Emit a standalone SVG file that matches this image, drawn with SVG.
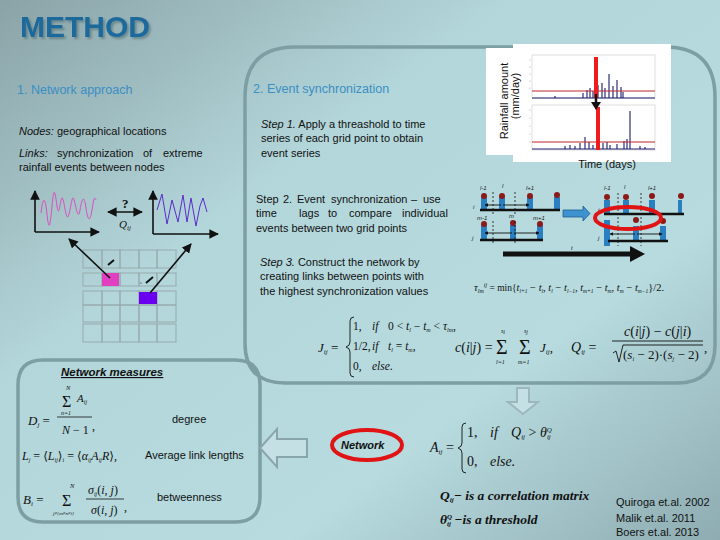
<svg xmlns="http://www.w3.org/2000/svg" width="720" height="540" viewBox="0 0 720 540">
<defs>
<linearGradient id="bg" x1="0" y1="0" x2="1" y2="1">
<stop offset="0" stop-color="#8aa3a7"/>
<stop offset="0.35" stop-color="#b3d6da"/>
<stop offset="0.7" stop-color="#b7dbdf"/>
<stop offset="1" stop-color="#8eacb1"/>
</linearGradient>
<filter id="sh" x="-10%" y="-20%" width="130%" height="150%"><feDropShadow dx="2" dy="2" stdDeviation="0.8" flood-color="#4d6d72" flood-opacity="0.6"/></filter>
<marker id="ah" viewBox="0 0 10 10" refX="9" refY="5" markerWidth="6" markerHeight="6" orient="auto-start-reverse"><path d="M0,0 L10,5 L0,10 z" fill="#111"/></marker>
<marker id="sa" viewBox="0 0 10 10" refX="9" refY="5" markerWidth="4" markerHeight="4" orient="auto-start-reverse"><path d="M0,0 L10,5 L0,10 z" fill="#111"/></marker>
<style>
.b{font-family:"Liberation Sans","DejaVu Sans",sans-serif;font-size:11px;fill:#111}
.h{font-family:"Liberation Sans","DejaVu Sans",sans-serif;font-size:12.5px;fill:#3a8fc4}
.m{font-family:"Liberation Serif","DejaVu Serif",serif;font-style:italic;fill:#111}
.r{font-style:normal}
.t{font-family:"Liberation Sans",sans-serif;font-size:6px;font-style:italic;fill:#222}
.box{fill:none;stroke:#7d9ea3;stroke-width:3.5}
.cell{fill:none;stroke:#98aaad;stroke-width:1}
.bar{fill:#2a7fc0}
.dot{fill:#8b1a1a}
.base{stroke:#111;stroke-width:2.5}
.dash{stroke:#111;stroke-width:0.8;stroke-dasharray:2,2}
.sp{stroke:#1c1c6e;stroke-width:1.1}
.ln{stroke:#111;stroke-width:1.6;fill:none}
</style>
</defs>
<rect width="720" height="540" fill="url(#bg)"/>

<g id="title">
<text x="20" y="37" font-family="Liberation Sans,sans-serif" font-weight="bold" font-size="30" fill="#1d6a9c" filter="url(#sh)">METHOD</text>
</g>

<g id="panel-sync">
<path class="box" d="M295,47 H665 Q715,47 715,97 V345 Q715,383 677,383 H285 Q245,383 245,343 V97 Q245,47 295,47 Z"/>
</g>
<g id="panel-measures">
<path class="box" d="M43,360 H235 Q260,360 260,385 V497 Q260,522 235,522 H43 Q18,522 18,497 V385 Q18,360 43,360 Z"/>
</g>

<g id="network-approach">
<text class="h" x="17" y="94">1. Network approach</text>
<text class="b" x="19" y="135"><tspan font-style="italic">Nodes:</tspan> geographical locations</text>
<text class="b" y="157"><tspan x="19" font-style="italic">Links:</tspan><tspan x="57">synchronization</tspan><tspan x="143">of</tspan><tspan x="163">extreme</tspan></text>
<text class="b" x="19" y="171">rainfall events between nodes</text>
</g>

<g id="series-plots">
<path class="ln" d="M35,232 H99" marker-end="url(#ah)"/>
<path class="ln" d="M35,232 V191" marker-end="url(#ah)"/>
<path d="M41,213 C43,196 45,196 47,214 S50,228 52,206 S55,192 57,206 S60,200 62,198 S66,226 69,214 S72,194 74,200 S78,222 80,210 S84,194 86,208 S90,222 92,210 S94,196 96,200" fill="none" stroke="#d84fc0" stroke-width="1"/>
<path class="ln" d="M153,234 V191" marker-end="url(#ah)"/>
<path class="ln" d="M153,234 H218" marker-end="url(#ah)"/>
<path d="M157,210 L162,194 L167,224 L172,200 L178,222 L183,195 L187,222 L191,198 L196,226 L200,206 L203,198 L207,212" fill="none" stroke="#5a2bd0" stroke-width="1"/>
<path class="ln" d="M108,212 H142" marker-start="url(#ah)" marker-end="url(#ah)" stroke-width="1.2"/>
<text x="122" y="208" font-family="Liberation Serif,serif" font-weight="bold" font-size="13" fill="#111">?</text>
<text class="m" x="119" y="228" font-size="11">Q<tspan font-size="7" dy="2">ij</tspan></text>
</g>

<g id="grid">
<rect class="cell" x="83" y="250" width="19" height="18"/><rect class="cell" x="102" y="250" width="18" height="18"/><rect class="cell" x="120" y="250" width="19" height="18"/><rect class="cell" x="139" y="250" width="18" height="18"/><rect class="cell" x="157" y="250" width="19" height="18"/>
<rect class="cell" x="83" y="273" width="19" height="13"/><rect class="cell" x="102" y="273" width="18" height="13"/><rect class="cell" x="120" y="273" width="19" height="13"/><rect class="cell" x="139" y="273" width="18" height="13"/><rect class="cell" x="157" y="273" width="19" height="13"/>
<rect class="cell" x="83" y="291" width="19" height="14"/><rect class="cell" x="102" y="291" width="18" height="14"/><rect class="cell" x="120" y="291" width="19" height="14"/><rect class="cell" x="139" y="291" width="18" height="14"/><rect class="cell" x="157" y="291" width="19" height="14"/>
<rect class="cell" x="83" y="305" width="19" height="17"/><rect class="cell" x="102" y="305" width="18" height="17"/><rect class="cell" x="120" y="305" width="19" height="17"/><rect class="cell" x="139" y="305" width="18" height="17"/><rect class="cell" x="157" y="305" width="19" height="17"/>
<rect class="cell" x="83" y="324" width="19" height="18"/><rect class="cell" x="102" y="324" width="18" height="18"/><rect class="cell" x="120" y="324" width="19" height="18"/><rect class="cell" x="139" y="324" width="18" height="18"/><rect class="cell" x="157" y="324" width="19" height="18"/>
<rect x="102" y="273" width="17" height="13" fill="#e040c0"/>
<rect x="139" y="292" width="18" height="12" fill="#6a00f0"/>
<path d="M108,265 L114,260" stroke="#111" stroke-width="2"/>
<path d="M146,283 L153,277" stroke="#111" stroke-width="2"/>
<circle cx="141" cy="283" r="0.6" fill="#111"/>
</g>

<g id="connectors">
<path class="ln" d="M110,278 L69,239" marker-end="url(#ah)"/>
<path class="ln" d="M150,293 L191,244" marker-end="url(#ah)"/>
</g>

<g id="event-sync-text">
<text class="h" x="253" y="93">2. Event synchronization</text>
<text class="b" x="261" y="128"><tspan font-style="italic">Step 1.</tspan> Apply a threashold to time</text>
<text class="b" x="261" y="142">series of each grid point to obtain</text>
<text class="b" x="261" y="157">event series</text>
<text class="b" y="203"><tspan x="256">Step</tspan><tspan x="283">2.</tspan><tspan x="297">Event</tspan><tspan x="331">synchronization</tspan><tspan x="411">–</tspan><tspan x="423">use</tspan></text>
<text class="b" y="217"><tspan x="256">time</tspan><tspan x="299">lags</tspan><tspan x="328">to</tspan><tspan x="349">compare</tspan><tspan x="402">individual</tspan></text>
<text class="b" x="256" y="232">events between two grid points</text>
<text class="b" x="260" y="266"><tspan font-style="italic">Step 3.</tspan> Construct the network by</text>
<text class="b" x="260" y="280">creating links between points with</text>
<text class="b" x="260" y="295">the highest synchronization values</text>
</g>

<g id="rainfall-chart">
<rect x="486" y="48" width="30" height="107" fill="#fff"/>
<rect x="513" y="44" width="158" height="118" fill="#fff"/>
<text class="b" font-size="11" transform="translate(508,101) rotate(-90)" text-anchor="middle">Rainfall amount</text>
<text class="b" font-size="11" transform="translate(519,96) rotate(-90)" text-anchor="middle">(mm/day)</text>
<rect x="532" y="55" width="123" height="43" fill="none" stroke="#d8d8d8" stroke-width="0.8"/>
<rect x="532" y="105" width="123" height="45" fill="none" stroke="#d8d8d8" stroke-width="0.8"/>
<g fill="#aaa"><circle cx="530" cy="60" r="0.6"/><circle cx="530" cy="67" r="0.6"/><circle cx="530" cy="74" r="0.6"/><circle cx="530" cy="81" r="0.6"/><circle cx="530" cy="88" r="0.6"/><circle cx="530" cy="110" r="0.6"/><circle cx="530" cy="118" r="0.6"/><circle cx="530" cy="126" r="0.6"/><circle cx="530" cy="134" r="0.6"/><circle cx="530" cy="142" r="0.6"/></g>
<path class="sp" d="M555,98 V96 M583,98 V93 M587,98 V90 M590,98 V88 M593,98 V91 M598,98 V85 M602,98 V83 M605,98 V88 M609,98 V74 M613,98 V86 M617,98 V80 M621,98 V87 M623,98 V92 M532,98 H655"/>
<path class="sp" d="M565,149 V146 M570,149 V145 M575,149 V146 M580,149 V143 M585,149 V137 M589,149 V142 M593,149 V145 M598,149 V140 M603,149 V143 M607,149 V142 M610,149 V145 M617,149 V144 M624,149 V141 M627,149 V139 M630,149 V111 M640,149 V146 M645,149 V147 M532,149 H655"/>
<path d="M532,91 H655 M532,142 H655" stroke="#c0262a" stroke-width="1.2"/>
<rect x="594" y="57" width="4" height="41" fill="#ee1c1c"/>
<rect x="596" y="107" width="4" height="43" fill="#ee1c1c"/>
<path d="M596,94 V104" stroke="#111" stroke-width="2.5"/>
<path d="M591,102 L601,102 L596,110 Z" fill="#111"/>
<text class="b" x="607" y="168" text-anchor="middle">Time (days)</text>
</g>

<g id="event-diagram">
<rect class="bar" x="481" y="197" width="6" height="13"/><rect class="bar" x="499" y="197" width="6" height="13"/><rect class="bar" x="527" y="197" width="6" height="13"/><rect class="bar" x="554" y="197" width="6" height="13"/>
<circle class="dot" cx="484" cy="196" r="3"/><circle class="dot" cx="502" cy="196" r="3"/><circle class="dot" cx="530" cy="196" r="3"/><circle class="dot" cx="557" cy="195" r="3"/>
<path class="base" d="M480,210 H560"/>
<path class="dash" d="M493,192 V215 M515,192 V215"/>
<path d="M485,205 H501 M503,205 H529" stroke="#111" stroke-width="0.9" marker-start="url(#sa)" marker-end="url(#sa)"/>
<text class="t" x="480" y="190">l-1</text><text class="t" x="502" y="188">l</text><text class="t" x="526" y="190">l+1</text><text class="t" x="473" y="209">i</text>
<rect class="bar" x="481" y="225" width="6" height="16"/><rect class="bar" x="510" y="225" width="6" height="15"/><rect class="bar" x="537" y="225" width="6" height="15"/>
<circle class="dot" cx="484" cy="224" r="3"/><circle class="dot" cx="513" cy="223" r="3"/><circle class="dot" cx="540" cy="224" r="3"/>
<path class="base" d="M480,240 H543"/>
<path class="dash" d="M493,221 V244 M515,221 V244"/>
<path d="M485,233 H512 M514,233 H539" stroke="#111" stroke-width="0.9" marker-start="url(#sa)" marker-end="url(#sa)"/>
<text class="t" x="477" y="220">m-1</text><text class="t" x="509" y="218">m</text><text class="t" x="533" y="220">m+1</text><text class="t" x="472" y="240">j</text>
<path d="M563,210 H583 V206 L590,213.5 L583,221 V217 H563 Z" fill="#3d93d0" stroke="#1e5e90" stroke-width="0.8"/>
<rect class="bar" x="604" y="200" width="6" height="14"/><rect class="bar" x="623" y="200" width="6" height="14"/><rect class="bar" x="649" y="200" width="6" height="14"/><rect class="bar" x="678" y="200" width="4" height="14"/>
<circle class="dot" cx="607" cy="197" r="3"/><circle class="dot" cx="626" cy="197" r="3"/><circle class="dot" cx="652" cy="196" r="3"/><circle class="dot" cx="681" cy="196" r="3"/>
<path class="base" d="M604,214 H684"/>
<path class="dash" d="M618,193 V246 M641,193 V246"/>
<text class="t" x="604" y="190">l-1</text><text class="t" x="624" y="189">l</text><text class="t" x="648" y="190">l+1</text><text class="t" x="598" y="212">i</text>
<rect class="bar" x="604" y="220" width="6" height="26"/><rect class="bar" x="633" y="226" width="6" height="14"/><rect class="bar" x="660" y="226" width="6" height="14"/>
<circle class="dot" cx="636" cy="220" r="3"/><circle class="dot" cx="663" cy="221" r="3"/>
<path class="base" d="M608,241 H668"/>
<path d="M610,234 H635 M637,234 H662" stroke="#111" stroke-width="0.9" marker-start="url(#sa)" marker-end="url(#sa)"/>
<text class="t" x="598" y="240">j</text>
<ellipse cx="628" cy="218" rx="33" ry="11" fill="none" stroke="#e01414" stroke-width="4"/>
<path d="M503,254 H633" stroke="#111" stroke-width="5"/>
<path d="M630,246 L645,254 L630,262 Z" fill="#111"/>
<text class="t" x="571" y="250">t</text>
</g>

<g id="formulas-sync" class="m">
<text x="474" y="291" font-size="10.5">τ<tspan font-size="6" dy="2">lm</tspan><tspan font-size="6" dy="-6">ij</tspan><tspan class="r" dy="4" font-size="9.5"> = min{</tspan>t<tspan font-size="5.5" dy="2">l+1</tspan><tspan dy="-2" class="r"> − </tspan>t<tspan font-size="5.5" dy="2">l</tspan><tspan dy="-2" class="r">, </tspan>t<tspan font-size="5.5" dy="2">l</tspan><tspan dy="-2" class="r"> − </tspan>t<tspan font-size="5.5" dy="2">l−1</tspan><tspan dy="-2" class="r">, </tspan>t<tspan font-size="5.5" dy="2">m+1</tspan><tspan dy="-2" class="r"> − </tspan>t<tspan font-size="5.5" dy="2">m</tspan><tspan dy="-2" class="r">, </tspan>t<tspan font-size="5.5" dy="2">m</tspan><tspan dy="-2" class="r"> − </tspan>t<tspan font-size="5.5" dy="2">m−1</tspan><tspan dy="-2" class="r">}/2.</tspan></text>
<text x="318" y="352" font-size="13">J<tspan font-size="7" dy="2">ij</tspan><tspan class="r" dy="-2"> =</tspan></text>
<path d="M354,317 q-4,0 -4,4 v21 q0,4 -4,5 q4,1 4,5 v21 q0,4 4,4" fill="none" stroke="#111" stroke-width="0.9"/>
<text x="353" y="330" font-size="11.5"><tspan class="r">1,</tspan><tspan x="372">if</tspan><tspan class="r" x="388">0 &lt; </tspan>t<tspan font-size="6" dy="2">l</tspan><tspan class="r" dy="-2"> − </tspan>t<tspan font-size="6" dy="2">m</tspan><tspan class="r" dy="-2"> &lt; </tspan>τ<tspan font-size="6" dy="2">lm</tspan><tspan class="r" dy="-2">,</tspan></text>
<text x="353" y="350" font-size="11.5"><tspan class="r">1/2,</tspan><tspan x="372">if</tspan><tspan x="388">t</tspan><tspan font-size="6" dy="2">l</tspan><tspan class="r" dy="-2"> = </tspan>t<tspan font-size="6" dy="2">m</tspan><tspan class="r" dy="-2">,</tspan></text>
<text x="353" y="370" font-size="11.5"><tspan class="r">0,</tspan><tspan x="372">else.</tspan></text>
<text x="455" y="352" font-size="14">c<tspan class="r">(</tspan>i<tspan class="r">|</tspan>j<tspan class="r">) =</tspan></text>
<text x="496" y="354" font-size="20" class="r">Σ</text>
<text x="519" y="354" font-size="20" class="r">Σ</text>
<text x="501" y="333" font-size="6">s<tspan dy="1">i</tspan></text>
<text x="524" y="333" font-size="6">s<tspan dy="1">j</tspan></text>
<text x="496" y="364" font-size="6">l=1</text>
<text x="518" y="364" font-size="6">m=1</text>
<text x="540" y="352" font-size="13">J<tspan font-size="7" dy="2">ij</tspan><tspan class="r" dy="-2">,</tspan></text>
<text x="571" y="352" font-size="14">Q<tspan font-size="7" dy="2">ij</tspan><tspan class="r" dy="-2"> =</tspan></text>
<text x="624" y="336" font-size="14">c<tspan class="r">(</tspan>i<tspan class="r">|</tspan>j<tspan class="r">) − </tspan>c<tspan class="r">(</tspan>j<tspan class="r">|</tspan>i<tspan class="r">)</tspan></text>
<path d="M612,341 H703" stroke="#111" stroke-width="0.9"/>
<path d="M613,353 L616,351 L619,362 L623,345 H703" fill="none" stroke="#111" stroke-width="0.9"/>
<text x="623" y="359" font-size="13"><tspan class="r">(</tspan>s<tspan font-size="6" dy="2">i</tspan><tspan class="r" dy="-2"> − 2)·(</tspan>s<tspan font-size="6" dy="2">j</tspan><tspan class="r" dy="-2"> − 2)</tspan></text>
<text x="704" y="352" font-size="13" class="r">,</text>
</g>

<g id="network-measures">
<text x="61" y="376" font-family="Liberation Sans,sans-serif" font-size="11.5" font-weight="bold" font-style="italic" text-decoration="underline" fill="#111">Network measures</text>
<g class="m">
<text x="28" y="425" font-size="13">D<tspan font-size="7" dy="2">j</tspan><tspan class="r" dy="-2"> =</tspan></text>
<text x="62" y="407" font-size="16" class="r">Σ</text>
<text x="66" y="390" font-size="6.5">N</text>
<text x="61" y="415" font-size="6">n=1</text>
<text x="77" y="402" font-size="11">A<tspan font-size="6" dy="2">ij</tspan></text>
<path d="M57,417 H92" stroke="#111" stroke-width="0.8"/>
<text x="62" y="434" font-size="12">N <tspan class="r">− 1</tspan></text>
<text x="92" y="430" font-size="12" class="r">,</text>
<text x="22" y="460" font-size="12">L<tspan font-size="6" dy="2">j</tspan><tspan class="r" dy="-2"> = ⟨</tspan>L<tspan font-size="6" dy="2">ij</tspan><tspan class="r" dy="-2">⟩</tspan><tspan font-size="6" dy="2">i</tspan><tspan class="r" dy="-2"> = ⟨</tspan>α<tspan font-size="6" dy="2">ij</tspan><tspan dy="-2">A</tspan><tspan font-size="6" dy="2">ij</tspan><tspan dy="-2">R</tspan><tspan class="r">⟩,</tspan></text>
<text x="23" y="504" font-size="13">B<tspan font-size="7" dy="2">i</tspan><tspan class="r" dy="-2"> =</tspan></text>
<text x="62" y="506" font-size="16" class="r">Σ</text>
<text x="70" y="488" font-size="6.5">N</text>
<text x="53" y="515" font-size="5">j≠{m≠n≠i}</text>
<text x="88" y="494" font-size="12">σ<tspan font-size="6" dy="2">ij</tspan><tspan class="r" dy="-2">(</tspan>i<tspan class="r">, </tspan>j<tspan class="r">)</tspan></text>
<path d="M86,499 H124" stroke="#111" stroke-width="0.8"/>
<text x="91" y="514" font-size="12">σ<tspan class="r">(</tspan>i<tspan class="r">, </tspan>j<tspan class="r">)</tspan></text>
<text x="124" y="511" font-size="12" class="r">,</text>
</g>
<text class="b" x="172" y="423">degree</text>
<text class="b" x="145" y="459">Average link lengths</text>
<text class="b" x="157" y="501">betweenness</text>
</g>

<g id="arrows-block">
<path d="M517,388 H529 V402 H538 L523,414 L508,402 H517 Z" fill="#c4e0e4" stroke="#9db7bc" stroke-width="2"/>
<path d="M307,439 V457 H277 V467 L260,448 L277,429 V439 Z" fill="#c4e0e4" stroke="#8aa5aa" stroke-width="2"/>
</g>

<g id="network">
<ellipse cx="367" cy="445" rx="35" ry="15" fill="none" stroke="#e01414" stroke-width="4"/>
<text x="341" y="449" font-family="Liberation Sans,sans-serif" font-size="11" font-weight="bold" font-style="italic" fill="#111">Network</text>
</g>

<g id="adjacency" class="m">
<text x="430" y="452" font-size="14">A<tspan font-size="7" dy="2">ij</tspan><tspan class="r" dy="-2"> =</tspan></text>
<path d="M466,423 q-4,0 -4,4 v16 q0,4 -4,5 q4,1 4,5 v16 q0,4 4,4" fill="none" stroke="#111" stroke-width="0.9"/>
<text x="467" y="437" font-size="14"><tspan class="r">1,</tspan><tspan x="490">if</tspan><tspan x="511">Q</tspan><tspan font-size="7" dy="2">ij</tspan><tspan class="r" dy="-2"> &gt; </tspan>θ<tspan font-size="7" dy="-5">Q</tspan><tspan font-size="7" dx="-5" dy="7">ij</tspan></text>
<text x="467" y="466" font-size="14"><tspan class="r">0,</tspan><tspan x="490">else.</tspan></text>
<text x="440" y="500" font-size="13.5" font-weight="bold">Q<tspan font-size="7" dy="2">ij</tspan><tspan dy="-2">− is a correlation matrix</tspan></text>
<text x="440" y="524" font-size="13.5" font-weight="bold">θ<tspan font-size="7" dy="-5">Q</tspan><tspan font-size="7" dx="-5" dy="7">ij</tspan><tspan dy="-2"> −is a threshold</tspan></text>
</g>

<g id="references">
<text class="b" x="616" y="506">Quiroga et.al. 2002</text>
<text class="b" x="616" y="522">Malik et.al. 2011</text>
<text class="b" x="616" y="536">Boers et.al. 2013</text>
</g>
</svg>
